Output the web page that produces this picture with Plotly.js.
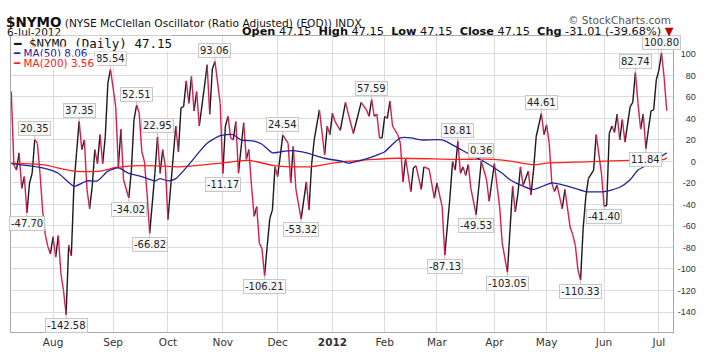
<!DOCTYPE html>
<html><head><meta charset="utf-8">
<script src="https://cdn.plot.ly/plotly-3.0.1.min.js"></script>
<style>html,body{margin:0;padding:0;background:#fff}#chart{width:708px;height:354px}</style>
</head><body><div id="chart"></div>
<script>
// trading-day index of each month start (index 0 = first bar, ~8-Jul-2011)
const monthTickIdx  = [16, 39, 60, 81, 102, 123, 143, 163, 185, 205, 227, 248];
const monthTickText = ['Aug','Sep','Oct','Nov','Dec','<b>2012</b>','Feb','Mar','Apr','May','Jun','Jul'];

// $NYMO daily (vertices)
const nymoIdx = [0,1,2,3,4,5,6,7,8,9,10,11,12,13,14,15,16,17,18,19,20,21,22,23,24,25,26,27,28,29,30,31,32,33,34,35,36,37,38,40,41,42,43,45,46,47,48,49,50,51,52,53,55,56,57,58,59,60,63,64,65,66,67,68,69,70,71,72,74,75,76,77,78,80,81,82,83,84,85,86,87,89,90,91,92,93,94,95,96,97,98,99,100,101,102,104,106,107,108,109,111,113,114,115,116,118,120,121,122,123,124,126,128,129,131,134,136,137,138,139,140,141,142,143,144,145,146,148,149,150,151,153,154,155,157,158,160,162,163,165,166,168,169,170,171,172,173,174,175,176,178,180,182,183,185,187,188,190,192,193,194,195,196,198,199,200,201,203,204,205,206,207,208,209,211,212,214,215,216,217,218,219,220,221,223,224,226,227,228,229,230,231,232,233,234,235,237,238,239,240,241,242,243,244,245,246,247,248,249,250,251];
const nymoVal = [65,-3,-8,8,-25,-14,-47.70,-20,-11,20.35,17,-11,-45,-68,-79,-86,-70,-89,-69,-104,-120,-142.58,-78,-88,-22,8,37.35,11,20,-26,-44,-23,11,-2,25,-2,23,73,85.54,51,-5,30,-17,-34.02,-8,39,52.51,45,9,0,-30,-66.82,-11,22.95,-11,11,-5,-54,33,9,50,51,75,54,79,47,65,33,70,90,44,86,93.06,54,-11.17,33,42,22,20,37,-11,36,2,11,-23,-51,-42,-76,-81,-106.21,-79,-53,-45,-5,-14,24.54,17,-20,14,-26,-53.32,-19,-45,-3,20,48,6,33,25,45,37,29,55,45,26,55,48,42,57.59,42,44,22,22,42,40,56,33,25,17,-19,3,-28,-6,-4,-26,-5,-7,-34,-20,-42,-87.13,-33,0,-8,18.81,-11,-5,-13,-3,-25,-49.53,0.36,-17,-37,-2,-42,-76,-103.05,-23,-47,-30,-5,-22,-9,-31,-8,23,44.61,25,34,17,-20,-28,-22,-44,-26,-61,-68,-78,-101,-110.33,-62,-33,-16,-8,25,-11,-41.40,-41,26,33,27,44,20,39,18,51,55,82.74,54,30,44,11.84,30,47,48,76,85,100.80,78.16,47.15];

// moving averages
const ma50Idx = [0,12,18,24,29,33,37,41,45,50,55,57,60,63,68,72,75,80,85,88,93,96,100,103,108,113,120,127,129,134,139,143,146,149,153,157,165,170,176,181,188,191,196,200,207,213,220,227,233,237,240,245,249,251];
const ma50Val = [-2,-6,-11,-23,-18,-18,-9,-6,-11,-14,-18,-16,-18,-16,-3,9,17,24,25,20,19,16,8,9,10,8,3,0,-1.6,1,5,9,16,22,22,20,20,14,6,0,-11,-17,-23,-26,-20,-23,-28,-28,-24,-17,-8,-1.6,4.7,8.06];
const ma200Idx = [0,12,24,34,40,47,55,64,82,91,101,114,122,128,139,148,170,185,192,200,205,220,230,245,250,251];
const ma200Val = [-1.5,-3,-9,-9,-5.6,-4,-4,-5,-1,1,-4,-5,-2,0,2,3,2,2,0,-3,-1.5,-0.4,0.5,1.5,2,3.56];

// labelled extremes
const peakIdx   = [9,26,38,48,56,78,104,138,171,180,203,239,249];
const troughIdx = [6,21,45,53,81,97,111,166,178,190,218,227,243];

const yTickVals = [-140,-120,-100,-80,-60,-40,-20,0,20,40,60,80,100];

// split NYMO into rising (black) and falling (red) segments
const up = {x:[], y:[]}, dn = {x:[], y:[]};
for (let k = 0; k < nymoIdx.length - 1; k++) {
  const t = nymoVal[k+1] >= nymoVal[k] ? up : dn;
  t.x.push(nymoIdx[k], nymoIdx[k+1], null);
  t.y.push(nymoVal[k], nymoVal[k+1], null);
}

const traces = [
  {x: up.x, y: up.y, mode:'lines', line:{color:'#1a1a1a', width:1.4}, connectgaps:false, hoverinfo:'skip'},
  {x: dn.x, y: dn.y, mode:'lines', line:{color:'#d81e4e', width:1.4}, connectgaps:false, hoverinfo:'skip'},
  {x: ma200Idx, y: ma200Val, mode:'lines', line:{color:'#ff2020', width:1.3, shape:'spline', smoothing:0.6}, hoverinfo:'skip'},
  {x: ma50Idx, y: ma50Val, mode:'lines', line:{color:'#22229a', width:1.3, shape:'spline', smoothing:0.6}, hoverinfo:'skip'}
];

function lbl(i, above) {
  const v = nymoVal[nymoIdx.indexOf(i)];
  return {x:i, y:v, xref:'x', yref:'y', text:v.toFixed(2), showarrow:true, arrowhead:0,
    arrowwidth:1, arrowcolor:'#bdbdbd', ax:0, ay: above ? -11 : 11, standoff:0,
    font:{family:'DejaVu Sans', size:10, color:'#222'}, bgcolor:'#f8f8f8',
    bordercolor:'#c8c8c8', borderwidth:1, borderpad:1};
}

const px = X => (X - 11) / 662;
const py = Y => (332 - Y) / 296;

const ann = [];
peakIdx.forEach(i => ann.push(lbl(i, true)));
troughIdx.forEach(i => ann.push(lbl(i, false)));

// header
ann.push({xref:'paper', yref:'paper', x:px(4), y:py(22), xanchor:'left', yanchor:'middle', showarrow:false,
  text:'<b><span style="font-size:13.5px">$NYMO</span></b> (NYSE McClellan Oscillator (Ratio Adjusted) (EOD)) INDX',
  font:{family:'DejaVu Sans', size:10.6, color:'#111'}});
ann.push({xref:'paper', yref:'paper', x:px(673), y:py(20), xanchor:'right', yanchor:'middle', showarrow:false,
  text:'© StockCharts.com', font:{family:'DejaVu Sans', size:10.5, color:'#555'}});
ann.push({xref:'paper', yref:'paper', x:px(5), y:py(32.5), xanchor:'left', yanchor:'middle', showarrow:false,
  text:'6-Jul-2012', font:{family:'DejaVu Sans', size:10.5, color:'#111'}});
ann.push({xref:'paper', yref:'paper', x:px(676), y:py(32), xanchor:'right', yanchor:'middle', showarrow:false,
  text:'<b>Open</b> 47.15  <b>High</b> 47.15  <b>Low</b> 47.15  <b>Close</b> 47.15  <b>Chg</b> -31.01 (-39.68%) <span style="color:#c00000">▼</span>',
  font:{family:'DejaVu Sans', size:11.3, color:'#111'}});

// legend rows
const legRows = [
  {t:'<span style="color:#1a1a1a">━</span> $NYMO (Daily) 47.15', c:'#111', f:'DejaVu Sans Mono', s:12.5, Y:44},
  {t:'<span style="color:#22229a">━</span> MA(50) 8.06', c:'#22229a', f:'DejaVu Sans', s:10.4, Y:53.5},
  {t:'<span style="color:#ff2020">━</span> MA(200) 3.56 ', c:'#ff2020', f:'DejaVu Sans', s:10.4, Y:63}
];
legRows.forEach(r => ann.push({xref:'paper', yref:'paper', x:px(12), y:py(r.Y), xanchor:'left', yanchor:'middle',
  showarrow:false, text:r.t, font:{family:r.f, size:r.s, color:r.c}, bgcolor:'rgba(255,255,255,0.9)', borderpad:0}));

const layout = {
  width:708, height:354, margin:{l:11, r:35, t:36, b:22},
  paper_bgcolor:'#ffffff', plot_bgcolor:'#ffffff', showlegend:false,
  xaxis:{range:[-0.1, 253.4], tickvals:monthTickIdx, ticktext:monthTickText, showgrid:true,
    gridcolor:'#dcdcdc', gridwidth:1, zeroline:false, showline:true, mirror:true, linecolor:'#a8a8a8',
    ticks:'', tickfont:{family:'DejaVu Sans', size:10.5, color:'#333'}, fixedrange:true},
  yaxis:{side:'right', range:[-158.6, 116.7], tickvals:yTickVals, ticktext:yTickVals.map(String),
    showgrid:true, gridcolor:'#dcdcdc', gridwidth:1, zeroline:false, showline:true, mirror:true,
    linecolor:'#a8a8a8', ticks:'', ticklabelposition:'inside', ticklabelstandoff:-24,
    tickfont:{family:'Liberation Sans', size:9, color:'#333'}, fixedrange:true},
  annotations: ann
};

Plotly.newPlot('chart', traces, layout, {displayModeBar:false, staticPlot:true});
</script>
</body></html>
